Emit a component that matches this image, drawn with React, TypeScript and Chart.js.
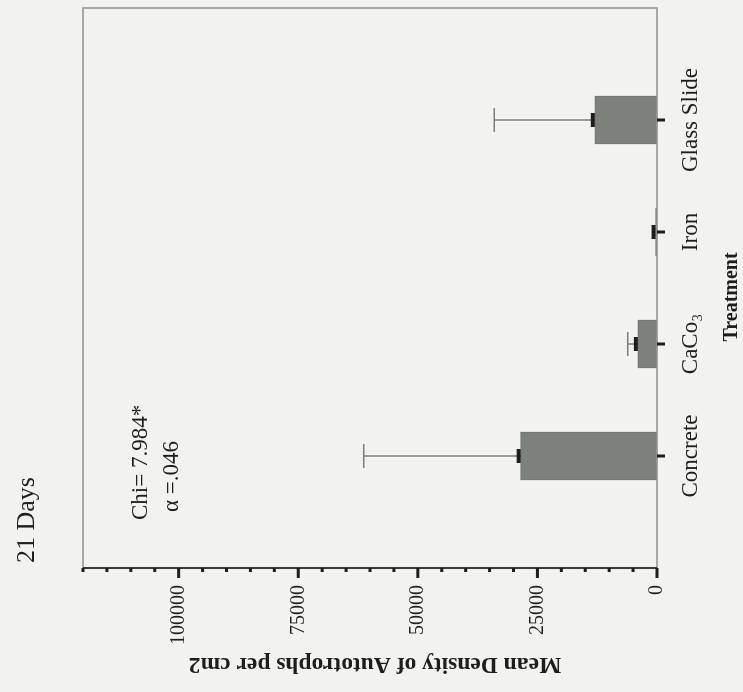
import React, { useEffect, useRef } from 'react';
import { Chart, registerables } from 'chart.js';

Chart.register(...registerables);

// ---- data ----
const categories = ['Concrete', 'CaCo₃', 'Iron', 'Glass Slide'];
const meanDensity = [28500, 4000, 300, 13000];
const semValues = [32800, 2100, 0, 21000];
const valueTicks = [0, 25000, 50000, 75000, 100000];
const axisMax = 120000;
const minorStep = 5000;
const chartTitle = '21 Days';
const statLines = ['Chi= 7.984*', 'α =.046'];
const yTitle = 'Mean Density of Autotrophs per cm2';
const xTitle = 'Treatment';

// ---- style ----
const W = 692; // upright width (becomes page height)
const H = 743; // upright height (becomes page width)
const serif = '"Liberation Serif", "Times New Roman", serif';
const bg = '#f2f3ee';
const barColor = '#7c8179';
const frameColor = '#8e938c';
const ink = '#1e1e1e';

const decor = {
  id: 'decor',
  beforeDraw(chart: any) {
    const ctx = chart.ctx;
    ctx.save();
    ctx.fillStyle = bg;
    ctx.fillRect(0, 0, chart.width, chart.height);
    ctx.restore();
  },
  afterDatasetsDraw(chart: any) {
    const ctx = chart.ctx;
    const ys = chart.scales.y;
    const meta = chart.getDatasetMeta(0);
    ctx.save();
    categories.forEach((_, i) => {
      const el = meta.data[i + 1];
      if (!el) return;
      const x = el.x;
      const top = ys.getPixelForValue(meanDensity[i]);
      const errTop = ys.getPixelForValue(meanDensity[i] + semValues[i]);
      if (semValues[i] > 0) {
        ctx.strokeStyle = '#7d7d7d';
        ctx.lineWidth = 1.5;
        ctx.beginPath();
        ctx.moveTo(x, top);
        ctx.lineTo(x, errTop);
        ctx.moveTo(x - 12, errTop);
        ctx.lineTo(x + 12, errTop);
        ctx.stroke();
      }
      ctx.fillStyle = ink;
      ctx.fillRect(x - 7, top - 4, 14, 4);
    });
    ctx.restore();
  },
  afterDraw(chart: any) {
    const ctx = chart.ctx;
    const a = chart.chartArea;
    const ys = chart.scales.y;
    const xs = chart.scales.x;
    ctx.save();
    // frame
    ctx.strokeStyle = frameColor;
    ctx.lineWidth = 1.5;
    ctx.beginPath();
    ctx.moveTo(a.left, a.top);
    ctx.lineTo(a.right, a.top);
    ctx.lineTo(a.right, a.bottom);
    ctx.lineTo(a.left, a.bottom);
    ctx.stroke();
    // value axis line
    ctx.strokeStyle = '#3a3a3a';
    ctx.lineWidth = 2;
    ctx.beginPath();
    ctx.moveTo(a.left, a.top);
    ctx.lineTo(a.left, a.bottom);
    ctx.stroke();
    // value ticks
    ctx.fillStyle = ink;
    for (let v = 0; v <= axisMax; v += minorStep) {
      const py = ys.getPixelForValue(v);
      const major = valueTicks.includes(v);
      const len = major ? 10 : 4;
      ctx.fillRect(a.left - len, py - 1.5, len, 3);
    }
    // category ticks
    categories.forEach((_, i) => {
      const px = xs.getPixelForValue(i + 1);
      ctx.fillRect(px - 1.5, a.bottom, 3, 8);
    });
    // texts
    ctx.fillStyle = ink;
    ctx.textBaseline = 'alphabetic';
    ctx.textAlign = 'left';
    ctx.font = `26px ${serif}`;
    ctx.fillText(chartTitle, a.left + 5, 34);
    ctx.font = `23px ${serif}`;
    ctx.fillText(statLines[0], a.left + 48, a.top + 64);
    ctx.fillText(statLines[1], a.left + 56, a.top + 95);
    ctx.textAlign = 'center';
    ctx.font = `bold 20px ${serif}`;
    ctx.fillText(xTitle, (a.left + a.right) / 2 - 9, 737);
    ctx.save();
    ctx.translate(34, (a.top + a.bottom) / 2 + 5);
    ctx.rotate(-Math.PI / 2);
    ctx.font = `bold 23.5px ${serif}`;
    ctx.fillText(yTitle, 0, 0);
    ctx.restore();
    ctx.restore();
  },
};

export default function App() {
  const ref = useRef<HTMLCanvasElement | null>(null);
  useEffect(() => {
    if (!ref.current) return;
    const chart = new Chart(ref.current, {
      type: 'bar',
      data: {
        labels: ['', ...categories, ''],
        datasets: [
          {
            data: [null, ...meanDensity, null],
            backgroundColor: barColor,
            borderColor: '#6f746d',
            borderWidth: 1,
            barThickness: 48,
          },
        ],
      },
      options: {
        responsive: false,
        animation: false,
        devicePixelRatio: 1,
        layout: { autoPadding: false, padding: { left: 0, top: 83, right: 8, bottom: 0 } },
        plugins: { legend: { display: false }, tooltip: { enabled: false }, title: { display: false } },
        scales: {
          x: {
            type: 'category',
            offset: false,
            grid: { display: false, drawTicks: false },
            border: { display: false },
            ticks: {
              autoSkip: false,
              maxRotation: 0,
              padding: 20,
              color: ink,
              font: { family: serif, size: 23 },
            },
            afterFit(scale: any) {
              scale.height = 86;
              scale.paddingLeft = 0;
              scale.paddingRight = 0;
            },
          },
          y: {
            min: 0,
            max: axisMax,
            grid: { display: false, drawTicks: false },
            border: { display: false },
            ticks: {
              stepSize: 25000,
              padding: 17,
              color: ink,
              font: { family: serif, size: 20 },
              callback: (v: any) => String(v),
            },
            afterBuildTicks(scale: any) {
              scale.ticks = valueTicks.map((v) => ({ value: v }));
            },
            afterFit(scale: any) {
              scale.width = 124;
              scale.paddingTop = 0;
              scale.paddingBottom = 0;
            },
          },
        },
      },
      plugins: [decor],
    });
    return () => chart.destroy();
  }, []);

  return (
    <div
      style={{
        position: 'fixed',
        left: 0,
        top: 0,
        width: W,
        height: H,
        transformOrigin: '0 0',
        transform: `translate(0px, ${W}px) rotate(-90deg)`,
        background: bg,
      }}
    >
      <canvas ref={ref} width={W} height={H} style={{ display: 'block', width: W, height: H }} />
    </div>
  );
}
